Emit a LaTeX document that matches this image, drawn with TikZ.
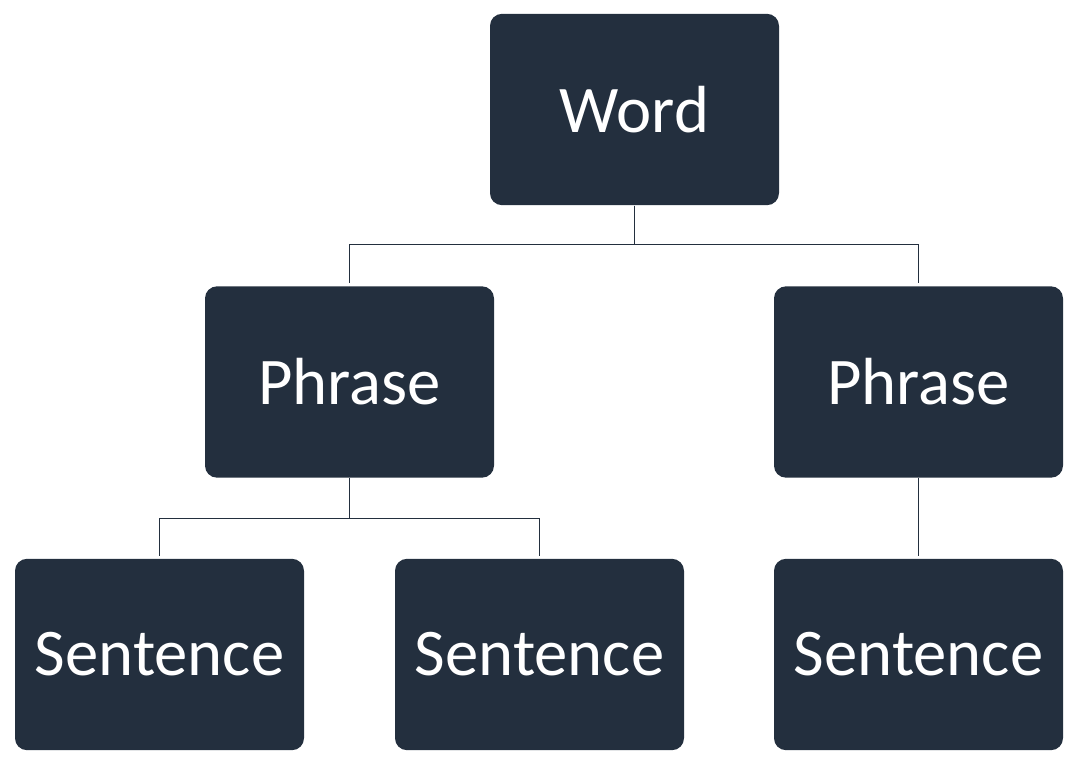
\documentclass[tikz,border=0pt]{standalone}
\usepackage{fontspec}
\setmainfont{Carlito}
\usetikzlibrary{positioning}
\definecolor{boxfill}{HTML}{232F3E}

\begin{document}
\begin{tikzpicture}[x=0.75pt,y=-0.75pt,thick]
\tikzstyle{unit}=[rectangle,rounded corners=9pt,fill=boxfill,text=white,minimum width=216.75pt,minimum height=143.5pt,font=\fontsize{50}{60}\selectfont]
\tikzstyle{link}=[draw=boxfill,line width=1pt,shorten >=2pt]

\useasboundingbox (0,0) rectangle (1079,764);

\node[unit] (word) at (634.5,109.5) {Word};
\node[unit] (phrase1) at (349.5,382) {Phrase};
\node[unit] (phrase2) at (918.5,382) {Phrase};
\node[unit] (sentence1) at (159.5,654.5) {Sentence};
\node[unit] (sentence2) at (539.5,654.5) {Sentence};
\node[unit] (sentence3) at (918.5,654.5) {Sentence};

\draw[link] (word.south) -- ++(0,39) -| (phrase1.north);
\draw[link] (word.south) -- ++(0,39) -| (phrase2.north);
\draw[link] (phrase1.south) -- ++(0,40) -| (sentence1.north);
\draw[link] (phrase1.south) -- ++(0,40) -| (sentence2.north);
\draw[link] (phrase2.south) -- (sentence3.north);
\end{tikzpicture}
\end{document}
